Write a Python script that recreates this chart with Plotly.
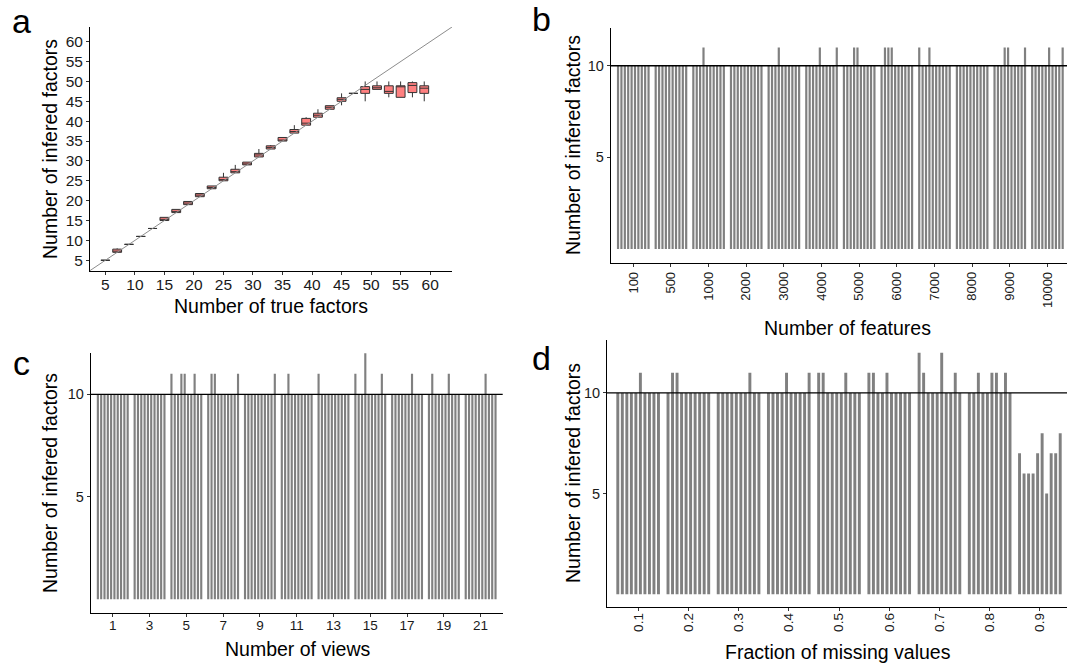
import plotly.graph_objects as go

W, H = 1067, 668
FONT = "Liberation Sans, Arial, Helvetica, sans-serif"

# ---------------- Panel a: boxplots of inferred vs true factors ----------------
a_true = [5, 7, 9, 11, 13, 15, 17, 19, 21, 23, 25, 27, 29, 31, 33, 35, 37, 39, 41, 43, 45, 47, 49, 51, 53, 55, 57, 59]
a_lower = [5, 7, 9, 11, 13, 15, 17, 19, 21, 23, 25, 27, 29, 31, 33, 35, 37, 39, 41, 43, 44, 47, 45, 48, 46, 46, 46, 45]
a_q1 = [5, 7, 9, 11, 13, 15, 17, 19, 21, 23, 25, 27, 29, 31, 33, 35, 37, 39, 41, 43, 45, 47, 47, 48, 47, 46, 47.2, 47]
a_median = [5, 7.3, 9, 11, 13, 15.3, 17.3, 19.4, 21.4, 23.3, 25.3, 27.3, 29.2, 31.5, 33.4, 35.2, 37.4, 39.5, 41.5, 43.5, 45.5, 47, 48, 48.4, 47.5, 48.9, 49, 48.3]
a_q3 = [5, 7.8, 9, 11, 13, 15.8, 17.8, 19.8, 21.8, 23.7, 25.9, 27.9, 29.7, 31.9, 33.8, 35.9, 37.9, 40.7, 42, 43.9, 45.9, 47, 48.7, 48.9, 48.9, 48.9, 49.7, 48.9]
a_upper = [5, 8, 9, 11, 13, 15.8, 17.8, 19.8, 21.8, 23.7, 27, 29, 29.7, 33, 34, 35.9, 39, 41, 43, 43.9, 47, 47, 50, 50, 50, 50, 50, 50]
a_identity = [0, 70]
a_ticks = [5, 10, 15, 20, 25, 30, 35, 40, 45, 50, 55, 60]

# ---------------- Panel b: number of features ----------------
b_categories = ["100", "500", "1000", "2000", "3000", "4000", "5000", "6000", "7000", "8000", "9000", "10000"]
b_values = [
    [10, 10, 10, 10, 10, 10, 10, 10, 10, 10],
    [10, 10, 10, 10, 10, 10, 10, 10, 10, 10],
    [10, 10, 10, 11, 10, 10, 10, 10, 10, 10],
    [10, 10, 10, 10, 10, 10, 10, 10, 10, 10],
    [10, 10, 10, 11, 10, 10, 10, 10, 10, 10],
    [10, 10, 10, 10, 11, 10, 10, 10, 10, 11],
    [10, 10, 10, 11, 11, 10, 10, 10, 10, 10],
    [10, 11, 11, 11, 10, 10, 10, 10, 10, 10],
    [11, 10, 10, 11, 10, 10, 10, 10, 10, 10],
    [10, 10, 10, 10, 10, 10, 10, 10, 10, 10],
    [10, 10, 10, 11, 11, 10, 10, 10, 10, 11],
    [10, 10, 10, 10, 10, 11, 10, 10, 10, 11],
]

# ---------------- Panel c: number of views ----------------
c_categories = ["1", "3", "5", "7", "9", "11", "13", "15", "17", "19", "21"]
c_values = [
    [10, 10, 10, 10, 10, 10, 10, 10, 10, 10],
    [10, 10, 10, 10, 10, 10, 10, 10, 10, 10],
    [11, 10, 10, 11, 11, 10, 10, 11, 10, 10],
    [10, 11, 11, 10, 10, 10, 10, 10, 10, 11],
    [10, 10, 10, 10, 10, 10, 10, 10, 10, 11],
    [10, 10, 11, 10, 10, 10, 10, 10, 10, 10],
    [11, 10, 10, 10, 10, 10, 10, 10, 10, 10],
    [11, 10, 10, 12, 10, 10, 10, 10, 11, 10],
    [10, 10, 10, 10, 10, 10, 11, 10, 10, 10],
    [10, 11, 10, 10, 10, 10, 11, 10, 10, 10],
    [10, 10, 10, 10, 10, 10, 11, 10, 10, 10],
]

# ---------------- Panel d: fraction of missing values ----------------
d_categories = ["0.1", "0.2", "0.3", "0.4", "0.5", "0.6", "0.7", "0.8", "0.9"]
d_values = [
    [10, 10, 10, 10, 10, 11, 10, 10, 10, 10],
    [10, 11, 11, 10, 10, 10, 10, 10, 10, 10],
    [10, 10, 10, 10, 10, 10, 10, 11, 10, 10],
    [10, 10, 10, 10, 11, 10, 10, 10, 10, 11],
    [11, 11, 10, 10, 10, 10, 11, 10, 10, 10],
    [11, 11, 10, 10, 11, 10, 10, 10, 10, 10],
    [12, 11, 10, 10, 10, 12, 10, 10, 11, 10],
    [10, 10, 11, 10, 10, 11, 11, 10, 11, 10],
    [7, 6, 6, 6, 7, 8, 5, 7, 7, 8],
]
n_trials = 10
true_k = 10
yticks_bcd = [5, 10]

BAR_COLOR = "#808080"
BOX_FILL = "#FF8080"
TEXT = "#1a1a1a"


def px(x):
    return x / W


def py(y):
    return 1 - y / H


fig = go.Figure()

# identity line (panel a)
fig.add_trace(go.Scatter(x=a_identity, y=a_identity, mode="lines",
                         line=dict(color="#8c8c8c", width=1),
                         xaxis="x", yaxis="y", showlegend=False, hoverinfo="skip"))
# boxes (panel a)
fig.add_trace(go.Box(x=a_true, lowerfence=a_lower, q1=a_q1, median=a_median,
                     q3=a_q3, upperfence=a_upper, width=1.5, whiskerwidth=0,
                     fillcolor=BOX_FILL, line=dict(color="#333333", width=1),
                     xaxis="x", yaxis="y", showlegend=False, boxpoints=False))


def add_bars(cats, vals, xa, ya):
    for t in range(n_trials):
        fig.add_trace(go.Bar(x=cats, y=[g[t] for g in vals], xaxis=xa, yaxis=ya,
                             marker=dict(color=BAR_COLOR, line=dict(width=0)),
                             showlegend=False))


add_bars(b_categories, b_values, "x2", "y2")
add_bars(c_categories, c_values, "x3", "y3")
add_bars(d_categories, d_values, "x4", "y4")

axis_common = dict(showline=True, linecolor="#000000", linewidth=1, showgrid=False,
                   zeroline=False, ticks="outside", ticklen=3, tickcolor="#333333",
                   tickwidth=1)

fig.update_layout(
    width=W, height=H, margin=dict(l=0, r=0, t=0, b=0),
    paper_bgcolor="white", plot_bgcolor="white",
    font=dict(family=FONT, color=TEXT),
    barmode="group", bargap=0.1, bargroupgap=0.35,
    # panel a
    xaxis=dict(domain=[px(90), px(452)], range=[2.4, 63.7], tickvals=a_ticks,
               anchor="y", tickfont=dict(size=15.5), ticklabelstandoff=-4, **axis_common),
    yaxis=dict(domain=[py(271), py(27)], range=[2.3, 63.7], tickvals=a_ticks,
               anchor="x", tickfont=dict(size=15.5), **axis_common),
    # panel b
    xaxis2=dict(domain=[px(610.7), 1.0], range=[-0.6, 11.52], type="category",
                anchor="y2", tickangle=-90, tickfont=dict(size=13), **axis_common),
    yaxis2=dict(domain=[py(262.7), py(28)], range=[-0.75, 12.06], tickvals=yticks_bcd,
                anchor="x2", tickfont=dict(size=14.5), **axis_common),
    # panel c
    xaxis3=dict(domain=[px(90.7), px(502.7)], range=[-0.6, 10.6], type="category",
                anchor="y3", tickfont=dict(size=13.5), ticklabelstandoff=-3, **axis_common),
    yaxis3=dict(domain=[py(612.7), py(352.7)], range=[-0.65, 12.03], tickvals=yticks_bcd,
                anchor="x3", tickfont=dict(size=14.5), **axis_common),
    # panel d
    xaxis4=dict(domain=[px(607), 1.0], range=[-0.62, 8.54], type="category",
                anchor="y4", tickangle=-90, tickfont=dict(size=13.5), ticklabelstandoff=-3,
                **axis_common),
    yaxis4=dict(domain=[py(606.7), py(340)], range=[-0.62, 12.63], tickvals=yticks_bcd,
                anchor="x4", tickfont=dict(size=14.5), **axis_common),
)

# reference line at the true number of factors
for xa, ya in [("x2", "y2"), ("x3", "y3"), ("x4", "y4")]:
    fig.add_shape(type="line", xref=f"{xa} domain", yref=ya, x0=0, x1=1,
                  y0=true_k, y1=true_k, line=dict(color="#000000", width=1.3))

TITLE = 19.5
ann = [
    dict(text="a", x=px(21), y=py(21), size=34, angle=0),
    dict(text="b", x=px(541), y=py(19), size=34, angle=0),
    dict(text="c", x=px(21), y=py(363), size=34, angle=0),
    dict(text="d", x=px(541), y=py(358), size=34, angle=0),
    dict(text="Number of true factors", x=px(271), y=py(306), size=TITLE, angle=0),
    dict(text="Number of features", x=px(847), y=py(328), size=TITLE, angle=0),
    dict(text="Number of views", x=px(297), y=py(649), size=TITLE, angle=0),
    dict(text="Fraction of missing values", x=px(838), y=py(652), size=TITLE, angle=0),
    dict(text="Number of infered factors", x=px(50), y=py(149), size=TITLE, angle=-90),
    dict(text="Number of infered factors", x=px(573), y=py(145), size=TITLE, angle=-90),
    dict(text="Number of infered factors", x=px(50), y=py(483), size=TITLE, angle=-90),
    dict(text="Number of infered factors", x=px(573), y=py(473), size=TITLE, angle=-90),
]
for a in ann:
    fig.add_annotation(text=a["text"], x=a["x"], y=a["y"], xref="paper", yref="paper",
                       showarrow=False, textangle=a["angle"], xanchor="center",
                       yanchor="middle", font=dict(size=a["size"], family=FONT, color="#000000"))

fig.write_html(
    "out.html",
    config={"displayModeBar": False},
    post_script=("document.body.style.margin='0';document.body.style.padding='0';"
                 "document.documentElement.style.overflow='hidden';"),
)
